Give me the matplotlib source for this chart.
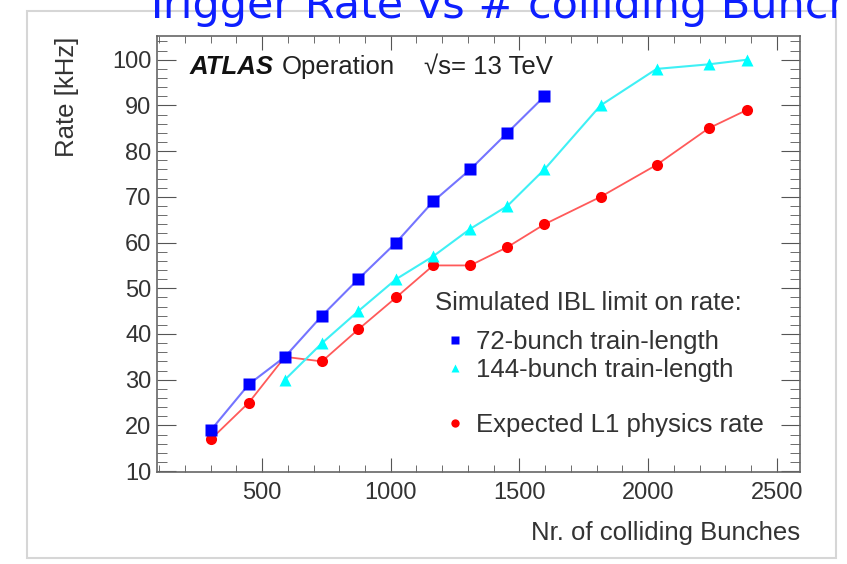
import matplotlib.pyplot as plt
from matplotlib.lines import Line2D
from matplotlib.patches import Rectangle
from matplotlib.ticker import MultipleLocator

plt.rcParams['font.family'] = ['Liberation Sans', 'DejaVu Sans']

# number of colliding bunches for each point
bunches = [302, 449, 589, 733, 874, 1021, 1165, 1309, 1453, 1597, 1815, 2033, 2235, 2383]

# rates in kHz
rate_72 = [19, 29, 35, 44, 52, 60, 69, 76, 84, 92]
rate_144 = [30, 38, 45, 52, 57, 63, 68, 76, 90, 98, 99, 100]
rate_l1 = [17, 25, 35, 34, 41, 48, 55, 55, 59, 64, 70, 77, 85, 89]

x_72 = bunches[:len(rate_72)]
x_144 = bunches[2:2 + len(rate_144)]
x_l1 = bunches

W, H = 847, 564
fig = plt.figure(figsize=(W / 100, H / 100), dpi=100)

# light frame of the pasted picture
fig.patches.append(Rectangle((27 / W, 1 - 558 / H), 809 / W, 547 / H, transform=fig.transFigure,
                             fill=False, edgecolor='#d6d6d6', linewidth=1.5))

ax = fig.add_axes([157 / W, 1 - 472 / H, 643 / W, 436 / H])

# lines first, markers on top; red under blue like the original
ax.plot(x_l1, rate_l1, '-', color='#ff5a5a', lw=1.3, zorder=2)
ax.plot(x_144, rate_144, '-', color='#3ff0f5', lw=1.5, zorder=2)
ax.plot(x_72, rate_72, '-', color='#7474ff', lw=1.5, zorder=2)
ax.plot(x_l1, rate_l1, 'o', color='#ff0000', ms=8, mec='none', zorder=3)
ax.plot(x_144, rate_144, '^', color='#00ffff', ms=8, mec='none', zorder=3)
ax.plot(x_72, rate_72, 's', color='#0000ff', ms=8.5, mec='none', zorder=4)

ax.set_xlim(92, 2590)
ax.set_ylim(9.8, 105.2)

ax.xaxis.set_major_locator(MultipleLocator(500))
ax.xaxis.set_minor_locator(MultipleLocator(100))
ax.yaxis.set_major_locator(MultipleLocator(10))
ax.yaxis.set_minor_locator(MultipleLocator(2))

ax.tick_params(axis='both', which='both', direction='in', top=True, right=True,
               color='#555555', labelsize=17, labelcolor='#333333')
ax.tick_params(axis='x', which='major', length=10, pad=7)
ax.tick_params(axis='x', which='minor', length=5)
ax.tick_params(axis='y', which='major', length=14, pad=4)
ax.tick_params(axis='y', which='minor', length=7)
for s in ax.spines.values():
    s.set_color('#666666')
    s.set_linewidth(1.2)

# texts (the slide title is cut off at the top, as in the original)
fig.text(143 / W, 1 - 18 / H, 'Trigger Rate vs # colliding Bunches', va='baseline',
         fontsize=31, color='#0d1fff', family='DejaVu Sans')
fig.text(67 / W, 1 - 37 / H, 'Rate [kHz]', rotation=90, ha='center', va='top',
         fontsize=18.5, color='#333333')
fig.text(800 / W, 1 - 533 / H, 'Nr. of colliding Bunches', ha='right', va='center',
         fontsize=18.5, color='#333333')
fig.text(190 / W, 1 - 67 / H, 'ATLAS', fontsize=18.5, weight='bold', style='italic',
         va='center', color='#111111')
fig.text(282 / W, 1 - 67 / H, 'Operation', fontsize=18.5, va='center', color='#222222')
fig.text(424 / W, 1 - 67 / H, '\u221as= 13 TeV', fontsize=18.5, va='center', color='#222222')

# legend
fig.text(435 / W, 1 - 303 / H, 'Simulated IBL limit on rate:', fontsize=18.5, va='center',
         color='#333333')
handles = [
    Line2D([], [], ls='none', marker='s', color='#0000ff', ms=5.5, mec='none'),
    Line2D([], [], ls='none', marker='^', color='#00ffff', ms=6, mec='none'),
    Line2D([], [], ls='none', marker=None),
    Line2D([], [], ls='none', marker='o', color='#ff0000', ms=6, mec='none'),
]
labels = ['72-bunch train-length', '144-bunch train-length', ' ', 'Expected L1 physics rate']
leg = ax.legend(handles, labels, loc='upper left',
                bbox_to_anchor=((445 - 157) / 643, (472 - 330) / 436),
                frameon=False, fontsize=18.5, borderpad=0, borderaxespad=0,
                handlelength=0.8, handletextpad=0.39, labelspacing=0.145)
for t in leg.get_texts():
    t.set_color('#333333')

fig.savefig('out.png', dpi=100)
